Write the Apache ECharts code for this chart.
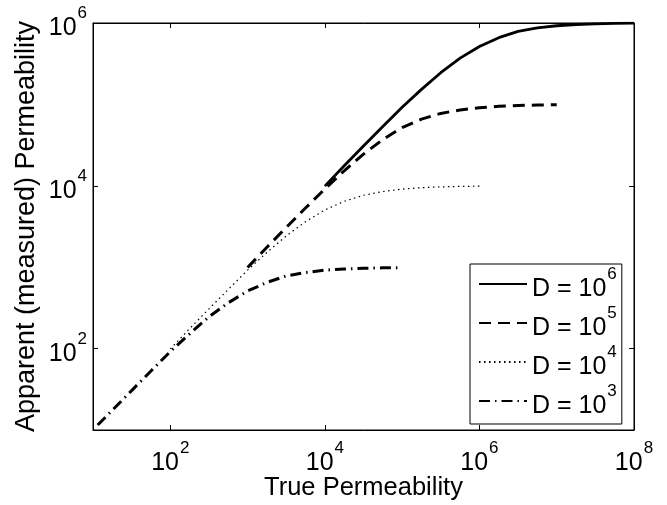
<!DOCTYPE html>
<html>
<head>
<meta charset="utf-8">
<script src="https://cdn.jsdelivr.net/npm/echarts@6/dist/echarts.min.js"></script>
<style>
  html, body { margin: 0; padding: 0; background: #fff; }
  #chart { width: 667px; height: 505px; }
</style>
</head>
<body>
<div id="chart"></div>
<script>
// true permeability (x) sampled every quarter decade
var kD3 = [11.5, 17.8, 31.6, 56.2, 100, 178, 316, 562, 1000, 1780, 3160, 5620, 10000, 17800, 31600, 56200, 100000];
var kD4 = [100, 178, 316, 562, 1000, 1780, 3160, 5620, 10000, 17800, 31600, 56200, 100000, 178000, 316000, 562000, 1000000];
var kD5 = [1000, 1780, 3160, 5620, 10000, 17800, 31600, 56200, 100000, 178000, 316000, 562000, 1000000, 1780000, 3160000, 5620000, 10000000];
var kD6 = [10000, 17800, 31600, 56200, 100000, 178000, 316000, 562000, 1000000, 1780000, 3160000, 5620000, 10000000, 17800000, 31600000, 56200000, 100000000];

// apparent (measured) permeability
var appD3 = [11.5, 17.5, 30.5, 53, 92, 152, 245, 365, 510, 650, 780, 860, 920, 950, 970, 982, 990];
var appD4 = [99, 176, 307, 532, 920, 1520, 2420, 3620, 5050, 6450, 7650, 8500, 9100, 9480, 9700, 9830, 9900];
var appD5 = [990, 1760, 3070, 5330, 9150, 15300, 24500, 37000, 52000, 66000, 77500, 85500, 91000, 94800, 97000, 98300, 99000];
var appD6 = [9900, 17600, 30800, 53500, 92000, 153000, 245000, 370000, 515000, 660000, 790000, 870000, 925000, 958000, 978000, 988000, 994000];

var seriesNames = ['D = 10^6', 'D = 10^5', 'D = 10^4', 'D = 10^3'];
var xTicks = [100, 10000, 1000000, 100000000];
var yTicks = [100, 10000, 1000000];

function pairs(xs, ys) {
  var out = [];
  for (var i = 0; i < xs.length; i++) out.push([xs[i], ys[i]]);
  return out;
}

function powLabel(v) {
  var e = Math.round(Math.log10(v));
  return '{b|10}{s|' + e + '}';
}

var font = 'Liberation Sans, Arial, Helvetica, sans-serif';
var rich = {
  b: { fontSize: 25, lineHeight: 36, verticalAlign: 'bottom', fontFamily: font, color: '#000' },
  s: { fontSize: 17, lineHeight: 17, verticalAlign: 'top', fontFamily: font, color: '#000', padding: [0, 0, 0, 1] }
};

var chart = echarts.init(document.getElementById('chart'));
var option = {
  animation: false,
  backgroundColor: '#fff',
  grid: {
    left: 93, right: 33, top: 23, bottom: 75,
    outerBoundsMode: 'none',
    show: true, borderColor: '#000', borderWidth: 1
  },
  legend: {
    orient: 'vertical',
    left: 470,
    top: 264,
    data: seriesNames,
    backgroundColor: '#fff',
    borderColor: '#000',
    borderWidth: 1,
    padding: [2, 5, 5, 8],
    itemWidth: 48,
    itemHeight: 14,
    itemGap: 3,
    itemStyle: { opacity: 0 },
    formatter: function (name) {
      var p = name.split('^');
      return '{b|' + p[0] + '}{s|' + p[1] + '}';
    },
    textStyle: { rich: rich }
  },
  xAxis: [{
    type: 'log',
    min: 10,
    max: 100000000,
    logBase: 10,
    name: 'True Permeability',
    nameLocation: 'middle',
    nameGap: 45,
    nameMoveOverlap: false,
    nameTextStyle: { fontSize: 25.5, fontFamily: font, color: '#000' },
    axisLine: { show: true, lineStyle: { color: '#000', width: 1 } },
    axisTick: { show: true, inside: true, length: 5, customValues: xTicks, lineStyle: { color: '#000' } },
    minorTick: { show: false },
    axisLabel: { customValues: xTicks, margin: 10, formatter: powLabel, rich: rich },
    splitLine: { show: false }
  }, {
    type: 'log',
    position: 'top',
    min: 10,
    max: 100000000,
    axisLine: { show: true, lineStyle: { color: '#000', width: 1 } },
    axisTick: { show: true, inside: true, length: 5, customValues: xTicks, lineStyle: { color: '#000' } },
    axisLabel: { show: false },
    splitLine: { show: false }
  }],
  yAxis: [{
    type: 'log',
    min: 10,
    max: 1000000,
    logBase: 10,
    name: 'Apparent (measured) Permeability',
    nameLocation: 'middle',
    nameGap: 53,
    nameMoveOverlap: false,
    nameTextStyle: { fontSize: 27, fontFamily: font, color: '#000' },
    axisLine: { show: true, lineStyle: { color: '#000', width: 1 } },
    axisTick: { show: true, inside: true, length: 5, customValues: yTicks, lineStyle: { color: '#000' } },
    axisLabel: { customValues: yTicks, margin: 6, formatter: powLabel, rich: rich },
    splitLine: { show: false }
  }, {
    type: 'log',
    position: 'right',
    min: 10,
    max: 1000000,
    axisLine: { show: true, lineStyle: { color: '#000', width: 1 } },
    axisTick: { show: true, inside: true, length: 5, customValues: yTicks, lineStyle: { color: '#000' } },
    axisLabel: { show: false },
    splitLine: { show: false }
  }],
  series: [
    {
      name: seriesNames[0], type: 'line', symbol: 'none', color: '#000',
      data: pairs(kD6, appD6),
      lineStyle: { color: '#000', width: 2.8, type: 'solid' }
    },
    {
      name: seriesNames[1], type: 'line', symbol: 'none', color: '#000',
      data: pairs(kD5, appD5),
      lineStyle: { color: '#000', width: 3, type: [12, 7] }
    },
    {
      name: seriesNames[2], type: 'line', symbol: 'none', color: '#000',
      data: pairs(kD4, appD4),
      lineStyle: { color: '#000', width: 1.2, type: [1.5, 3.5] }
    },
    {
      name: seriesNames[3], type: 'line', symbol: 'none', color: '#000',
      data: pairs(kD3, appD3),
      lineStyle: { color: '#000', width: 3, type: [11, 5, 1.5, 5] }
    }
  ]
};
chart.setOption(option);
</script>
</body>
</html>
